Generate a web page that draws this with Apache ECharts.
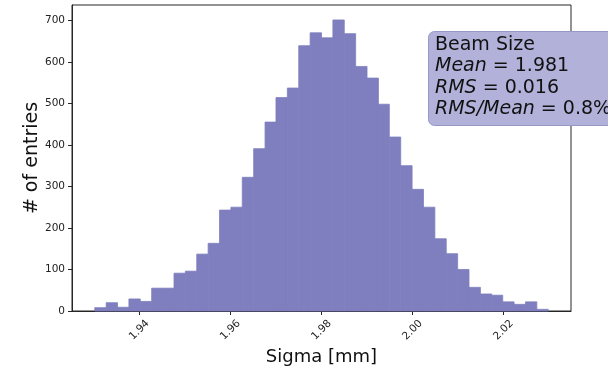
<!DOCTYPE html>
<html>
<head>
<meta charset="utf-8">
<script src="https://cdn.jsdelivr.net/npm/echarts@6/dist/echarts.min.js"></script>
<style>
  html, body { margin: 0; padding: 0; background: #fff; }
  #chart { width: 608px; height: 367px; }
</style>
</head>
<body>
<div id="chart"></div>
<script>
// histogram bin edges (Sigma, mm)
const binEdges = [
  1.9302, 1.9327, 1.9352, 1.9377, 1.9402, 1.9427, 1.9451, 1.9476, 1.9501, 1.9526,
  1.9551, 1.9576, 1.9601, 1.9626, 1.9651, 1.9676, 1.9700, 1.9725, 1.9750, 1.9775,
  1.9800, 1.9825, 1.9850, 1.9875, 1.9900, 1.9925, 1.9949, 1.9974, 1.9999, 2.0024,
  2.0049, 2.0074, 2.0099, 2.0124, 2.0149, 2.0174, 2.0198, 2.0223, 2.0248, 2.0273,
  2.0298
];
// entries per bin
const counts = [
  8, 20, 9, 29, 23, 55, 55, 91, 96, 137,
  163, 243, 250, 322, 391, 455, 514, 537, 639, 670,
  658, 701, 668, 589, 561, 498, 419, 350, 293, 250,
  174, 138, 100, 57, 41, 38, 22, 16, 22, 4
];
const xTicks = [1.94, 1.96, 1.98, 2.00, 2.02];
const yTicks = [0, 100, 200, 300, 400, 500, 600, 700];
const statLines = { mean: "1.981", rms: "0.016", ratio: "0.8%" };

const rows = counts.map((c, i) => [binEdges[i], binEdges[i + 1], c]);

const chart = echarts.init(document.getElementById("chart"));
const fill = "#7f7fbf";
const ink = "#262626";

chart.setOption({
  animation: false,
  backgroundColor: "#fff",
  grid: {
    left: 72, right: 37, top: 5, bottom: 56,
    containLabel: false,
    outerBoundsMode: "none",
    show: true, borderColor: ink, borderWidth: 1, backgroundColor: "transparent"
  },
  title: {
    left: 428, top: 30,
    text: [
      "{n|Beam Size}",
      "{i|Mean}{n| = " + statLines.mean + "}",
      "{i|RMS}{n| = " + statLines.rms + "}",
      "{i|RMS/Mean}{n| = " + statLines.ratio + "}"
    ].join("\n"),
    backgroundColor: "#b1b1d9",
    borderColor: "#9797c6",
    borderWidth: 1,
    borderRadius: 6,
    padding: [4, 7, 7, 7],
    textStyle: {
      fontWeight: "normal",
      rich: {
        n: { fontFamily: "DejaVu Sans", fontWeight: "normal", fontSize: 19, color: "#111", lineHeight: 21.5 },
        i: { fontFamily: "DejaVu Sans", fontWeight: "normal", fontStyle: "italic", fontSize: 19, color: "#111", lineHeight: 21.5 }
      }
    }
  },
  xAxis: {
    type: "value",
    min: 1.9252, max: 2.0348,
    name: "Sigma [mm]",
    nameLocation: "middle",
    nameGap: 37,
    nameMoveOverlap: false,
    nameTextStyle: { fontFamily: "DejaVu Sans", fontSize: 18, color: "#111" },
    splitLine: { show: false },
    axisLine: { onZero: false, lineStyle: { color: ink, width: 1 } },
    axisTick: { customValues: xTicks, length: 4, lineStyle: { color: ink } },
    axisLabel: {
      customValues: xTicks,
      rotate: 45,
      align: "center",
      verticalAlign: "middle",
      margin: 19,
      fontFamily: "DejaVu Sans", fontSize: 10.5, color: "#222",
      formatter: (v) => Number(v).toFixed(2)
    }
  },
  yAxis: {
    type: "value",
    min: 0, max: 737,
    name: "# of entries",
    nameLocation: "middle",
    nameGap: 30,
    nameMoveOverlap: false,
    nameTextStyle: { fontFamily: "DejaVu Sans", fontSize: 19, color: "#111" },
    splitLine: { show: false },
    axisLine: { show: true, lineStyle: { color: ink, width: 1 } },
    axisTick: { show: true, customValues: yTicks, length: 4, lineStyle: { color: ink } },
    axisLabel: {
      customValues: yTicks,
      margin: 7,
      fontFamily: "DejaVu Sans", fontSize: 10.5, color: "#222"
    }
  },
  series: [{
    type: "custom",
    data: rows,
    encode: { x: [0, 1], y: 2 },
    renderItem: (params, api) => {
      const top = api.coord([api.value(0), api.value(2)]);
      const base = api.coord([api.value(1), 0]);
      return {
        type: "rect",
        shape: { x: top[0], y: top[1], width: base[0] - top[0], height: base[1] - top[1] },
        style: { fill: fill, stroke: fill, lineWidth: 0.8 }
      };
    }
  }]
});
</script>
</body>
</html>
